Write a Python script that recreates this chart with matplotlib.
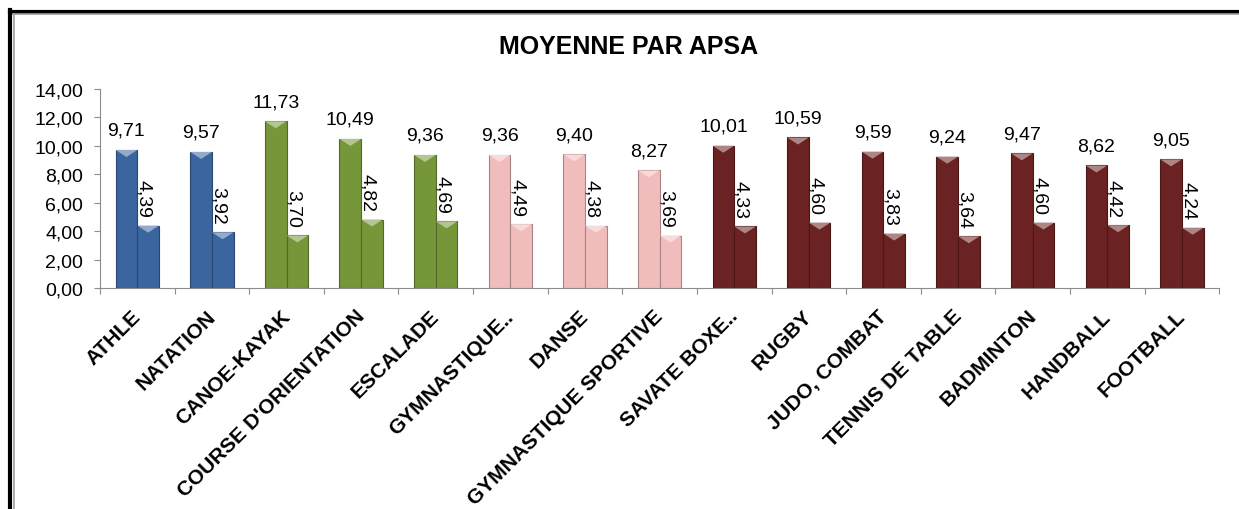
import numpy as np
import matplotlib.pyplot as plt
from matplotlib.patches import Polygon
import matplotlib.colors as mcolors

plt.rcParams['font.family'] = ['Liberation Sans', 'DejaVu Sans']

categories = ['ATHLE', 'NATATION', 'CANOE-KAYAK', "COURSE D'ORIENTATION", 'ESCALADE',
              'GYMNASTIQUE..', 'DANSE', 'GYMNASTIQUE SPORTIVE', 'SAVATE BOXE..', 'RUGBY',
              'JUDO, COMBAT', 'TENNIS DE TABLE', 'BADMINTON', 'HANDBALL', 'FOOTBALL']
moyenne = [9.71, 9.57, 11.73, 10.49, 9.36, 9.36, 9.40, 8.27, 10.01, 10.59,
           9.59, 9.24, 9.47, 8.62, 9.05]
ecart = [4.39, 3.92, 3.70, 4.82, 4.69, 4.49, 4.38, 3.69, 4.33, 4.60,
         3.83, 3.64, 4.60, 4.42, 4.24]
groups = ['bleu', 'bleu', 'vert', 'vert', 'vert', 'rose', 'rose', 'rose',
          'rouge', 'rouge', 'rouge', 'rouge', 'rouge', 'rouge', 'rouge']
palette = {'bleu': '#3a659e', 'vert': '#76963a', 'rose': '#f1bcbc', 'rouge': '#6a2222'}


def fr(v):
    return '{:.2f}'.format(v).replace('.', ',')


def bevel(ax, bar, color):
    # petit triangle clair en haut de la barre (effet relief Excel)
    light = tuple(c + (1 - c) * 0.45 for c in mcolors.to_rgb(color))
    px_per_unit = ax.transData.transform((0, 1))[1] - ax.transData.transform((0, 0))[1]
    depth = 7.0 / px_per_unit
    x0, w, h = bar.get_x(), bar.get_width(), bar.get_height()
    tri = Polygon([(x0, h), (x0 + w, h), (x0 + w / 2, h - depth)],
                  closed=True, facecolor=light, edgecolor='none', zorder=4)
    ax.add_patch(tri)


fig = plt.figure(figsize=(12.39, 5.10), dpi=100)
ax = fig.add_axes([0.0807, 0.4333, 0.9033, 0.3902])

x = np.arange(len(categories)) + 0.5
w = 0.29
colors = [palette[g] for g in groups]
edges = [tuple(c * 0.7 for c in mcolors.to_rgb(col)) for col in colors]

ax.set_xlim(0, len(categories))
ax.set_ylim(0, 14)

b1 = ax.bar(x - w / 2, moyenne, w, color=colors, edgecolor=edges, linewidth=0.8, zorder=3)
b2 = ax.bar(x + w / 2, ecart, w, color=colors, edgecolor=edges, linewidth=0.8, zorder=3)
for bars in (b1, b2):
    for b, c in zip(bars, colors):
        bevel(ax, b, c)

for xi, v in zip(x, moyenne):
    ax.annotate(fr(v), (xi - w / 2, v), xytext=(0, 8), textcoords='offset points',
                ha='center', va='bottom', fontsize=14)
for xi, v in zip(x, ecart):
    ax.annotate(fr(v), (xi + w / 2, v), xytext=(-3, 6), textcoords='offset points',
                ha='center', va='bottom', rotation=270, fontsize=14)

# etiquettes de categories
for xi, cat in zip(x, categories):
    ax.annotate(cat, (xi, 0), xycoords=('data', 'axes fraction'), xytext=(-4.5, -13),
                textcoords='offset points', rotation=45, ha='right', va='top',
                rotation_mode='anchor', fontsize=15, fontweight='bold')

ax.set_yticks(np.arange(0, 15, 2))
ax.set_yticklabels([fr(v) for v in np.arange(0, 15, 2)], fontsize=14)
ax.set_xticks(np.arange(0, len(categories) + 1))
ax.set_xticklabels([])
ax.tick_params(axis='x', length=4, color='#8c8c8c', direction='out')
ax.tick_params(axis='y', length=4, color='#8c8c8c', direction='out', pad=8)

for s in ('top', 'right'):
    ax.spines[s].set_visible(False)
for s in ('left', 'bottom'):
    ax.spines[s].set_color('#8c8c8c')

fig.text(0.507, 0.908, 'MOYENNE PAR APSA', ha='center', va='center',
         fontsize=18, fontweight='bold')

# cadre du graphique (bord haut et gauche visibles)
fig.add_artist(plt.Line2D([0.0081, 1.0], [0.975, 0.975], color='black', lw=3))
fig.add_artist(plt.Line2D([0.0081, 1.0], [0.971, 0.971], color='#a0a0a0', lw=1.2))
fig.add_artist(plt.Line2D([0.0081, 0.0081], [0.0, 0.978], color='black', lw=3))
fig.add_artist(plt.Line2D([0.0113, 0.0113], [0.0, 0.971], color='#a0a0a0', lw=1.2))

fig.savefig('out.png', dpi=100)
